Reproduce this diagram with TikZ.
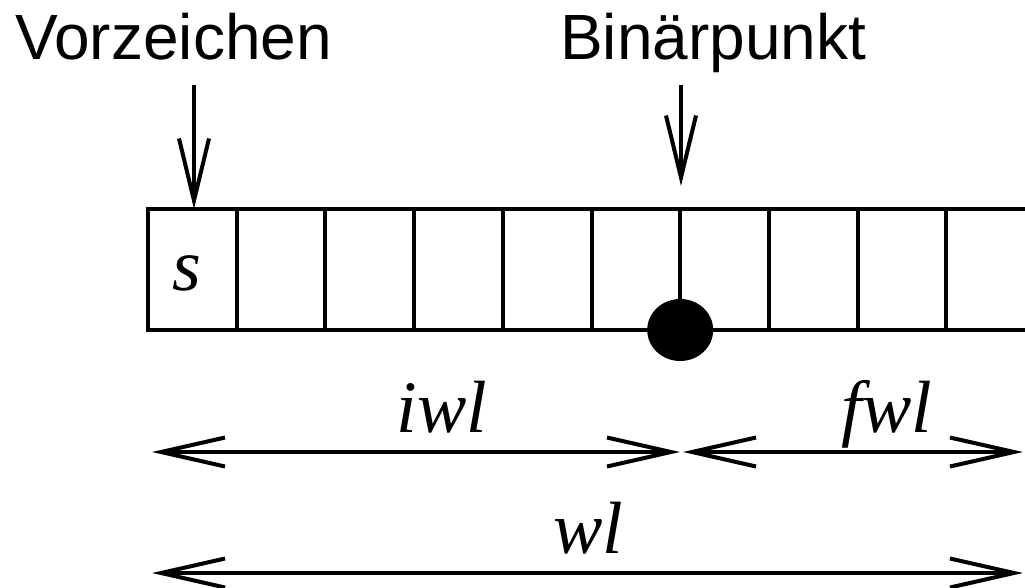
\documentclass[tikz,border=0pt]{standalone}
\usepackage{fontspec}
\setmainfont{Liberation Serif}
\newfontfamily\labelsans{Liberation Sans}
\usetikzlibrary{arrows.meta}
\begin{document}
\begin{tikzpicture}[x=1pt,y=-1pt,
  cell/.style={draw,line width=4pt,minimum width=88.7pt,minimum height=121pt,inner sep=0pt,outer sep=0pt},
  head/.style={font=\labelsans\fontsize{64}{64}\selectfont,inner sep=0pt,anchor=base west},
  var/.style={font=\itshape\fontsize{74}{74}\selectfont,inner sep=0pt,anchor=base},
  arr/.style={line width=4pt,-{Straight Barb[length=62pt,width=30pt]}},
  dim/.style={line width=4pt,{Straight Barb[length=64pt,width=29pt]}-{Straight Barb[length=64pt,width=29pt]}}]
\useasboundingbox (0,0) rectangle (1025,587);
\clip (0,0) rectangle (1025,587);

% register cells
\foreach \i in {0,...,9}
  \node[cell] (c\i) at ({148+88.7*\i+44.35},269.5) {};

% sign bit and binary point
\node[var] (s) at (187,290) {s};
\fill (c6.south west) ellipse [x radius=33pt,y radius=31pt];

% headings with their arrows
\node[head] (vz) at (15,59) {Vorzeichen};
\node[head] (bp) at (560,59) {Binärpunkt};
\coordinate (vzTop) at (194,85);
\coordinate (bpTop) at (681,85);
\coordinate (bpTip) at (681,186);
\draw[arr] (vzTop) -- (vzTop |- c0.north);
\draw[arr] (bpTop) -- (bpTip);

% word length dimensions
\coordinate (iL) at (152,452);
\coordinate (iR) at (680,452);
\coordinate (fL) at (683,452);
\coordinate (fR) at (1023,452);
\coordinate (wL) at (152,573);
\coordinate (wR) at (1023,573);
\draw[dim] (iL) -- (iR);
\draw[dim] (fL) -- (fR);
\draw[dim] (wL) -- (wR);
\node[var] (iwl) at (442,432) {iwl};
\node[var] (fwl) at (887,432) {fwl};
\node[var] (wl) at (588,553) {wl};
\end{tikzpicture}
\end{document}
